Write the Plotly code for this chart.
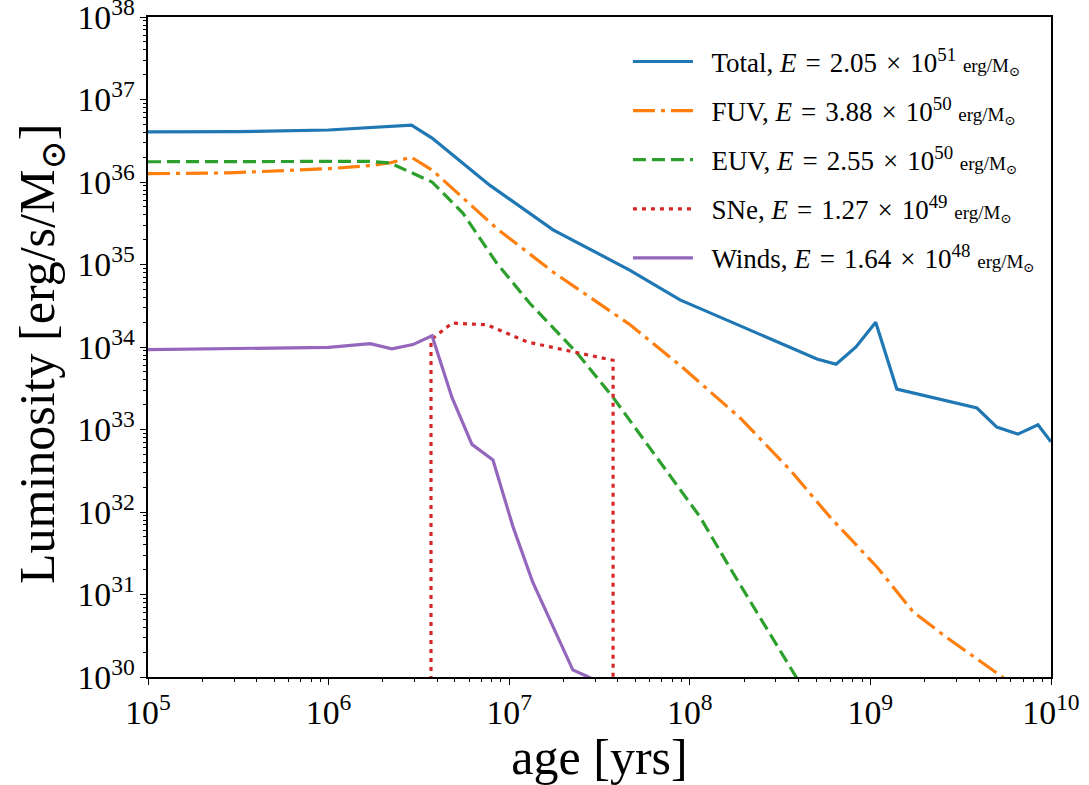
import plotly.graph_objects as go

# ---------------- data ----------------
age_total = [1.0e5, 3.16e5, 1.0e6, 1.7e6, 2.88e6, 3.74e6, 7.83e6, 1.75e7, 4.67e7,
             8.83e7, 3.16e8, 5.06e8, 6.46e8, 8.32e8, 1.07e9, 1.40e9, 3.89e9,
             5.01e9, 6.56e9, 8.47e9, 1.0e10]
lum_total = [4.04e36, 4.07e36, 4.27e36, 4.57e36, 4.9e36, 3.41e36, 9.1e35, 2.63e35, 8.5e34,
             3.72e34, 1.12e34, 7.16e33, 6.17e33, 1.0e34, 2.0e34, 3.09e33, 1.82e33,
             1.07e33, 8.8e32, 1.14e33, 7.1e32]

age_fuv = [1.0e5, 2.8e5, 1.0e6, 1.7e6, 2.2e6, 2.87e6, 3.74e6, 8.5e6, 1.75e7, 4.67e7,
           8.83e7, 1.9e8, 3.59e8, 5.97e8, 1.09e9, 1.72e9, 2.65e9, 5.01e9, 7.1e9]
lum_fuv = [1.26e36, 1.29e36, 1.45e36, 1.58e36, 1.71e36, 2.0e36, 1.40e36, 2.75e35, 8.1e34, 1.86e34,
           6.0e33, 1.38e33, 3.24e32, 8.7e31, 2.14e31, 6.2e30, 3.0e30, 1.12e30, 6.3e29]

age_euv = [1.0e5, 1.7e6, 2.19e6, 2.82e6, 3.74e6, 5.55e6, 8.5e6, 1.3e7, 2.37e7, 3.76e7,
           8.83e7, 1.14e8, 1.66e8, 3.72e8, 5.0e8]
lum_euv = [1.76e36, 1.78e36, 1.70e36, 1.33e36, 1.0e36, 4.17e35, 1.05e35, 3.39e34, 8.5e33, 2.45e33,
           1.86e32, 8.7e31, 2.14e31, 1.2e30, 4.0e29]

age_sne = [3.69e6, 3.69e6, 4.82e6, 7.53e6, 1.26e7, 2.25e7, 3.76e7, 3.76e7]
lum_sne = [1.0e28, 1.22e34, 1.95e34, 1.86e34, 1.15e34, 8.7e33, 6.9e33, 1.0e28]

age_winds = [1.0e5, 3.16e5, 1.0e6, 1.7e6, 2.24e6, 2.93e6, 3.74e6, 4.82e6, 6.22e6, 8.13e6,
             1.05e7, 1.35e7, 2.25e7, 2.8e7, 3.5e7]
lum_winds = [9.3e33, 9.5e33, 9.9e33, 1.1e34, 9.5e33, 1.07e34, 1.37e34, 2.45e33, 6.6e32, 4.27e32,
             6.6e31, 1.41e31, 1.22e30, 9.8e29, 6.3e29]

names = ["Total", "FUV", "EUV", "SNe", "Winds"]
energy_mant = ["2.05", "3.88", "2.55", "1.27", "1.64"]
energy_exp = ["51", "50", "50", "49", "48"]
colors = ["#1f77b4", "#ff7f0e", "#2ca02c", "#d62728", "#9467bd"]
dashes = ["solid", "22px,6px,4px,6px", "13px,6px", "4px,5px", "solid"]

series_x = [age_total, age_fuv, age_euv, age_sne, age_winds]
series_y = [lum_total, lum_fuv, lum_euv, lum_sne, lum_winds]

FONT = "Liberation Serif, DejaVu Serif, serif"
SP = "\u2004"  # 1/3-em space, mimics TeX math spacing
LEAD = "\u2002"  # gap between legend line and its text

fig = go.Figure()
for i in range(5):
    label = (f"{LEAD}{names[i]}, <i>E</i>{SP}={SP}{energy_mant[i]}{SP}×{SP}10<sup>{energy_exp[i]}</sup> "
             f"<span style='font-size:19px'>erg/M<sub>⊙</sub></span>")
    fig.add_trace(go.Scatter(
        x=series_x[i], y=series_y[i], mode="lines", name=label,
        legendgroup=names[i],
        line=dict(color=colors[i], width=3.2, dash=dashes[i]),
    ))

axis_common = dict(
    type="log", dtick=1, exponentformat="power", showexponent="all",
    showgrid=False, zeroline=False, automargin=False,
    showline=True, linecolor="black", linewidth=1.5, mirror=True,
    ticks="outside", ticklen=6, tickwidth=1.3, tickcolor="black",
    ticklabeloverflow="allow",
    minor=dict(ticks="outside", ticklen=3.5, tickwidth=1, tickcolor="black",
               dtick="D1", showgrid=False),
    tickfont=dict(family=FONT, size=27, color="black"),
)

fig.update_layout(
    width=1089, height=785,
    margin=dict(l=148, r=38, t=17, b=108),
    paper_bgcolor="white", plot_bgcolor="white",
    font=dict(family=FONT, color="black"),
    xaxis=dict(range=[5, 10],
               title=dict(text="age [yrs]", font=dict(family=FONT, size=50), standoff=0),
               **axis_common),
    yaxis=dict(range=[30, 38], **axis_common),
    annotations=[dict(
        text="Luminosity [erg/s/M<sub>⊙</sub>]", textangle=-90,
        xref="paper", yref="paper", x=0, y=0.5, xshift=-107, yshift=-7,
        xanchor="center", yanchor="middle", showarrow=False,
        font=dict(family=FONT, size=50, color="black"),
    )],
    legend=dict(x=0.5315, y=0.969, xanchor="left", yanchor="top",
                bgcolor="rgba(255,255,255,0)", borderwidth=0,
                font=dict(family=FONT, size=27, color="black"),
                itemwidth=60, tracegroupgap=11),
    showlegend=True,
)

# remove the default 8px page margin so the figure fills the window exactly
fig.write_html("out.html",
               config={"displayModeBar": False},
               post_script="document.body.style.margin='0px';"
                           "document.body.style.overflow='hidden';")
